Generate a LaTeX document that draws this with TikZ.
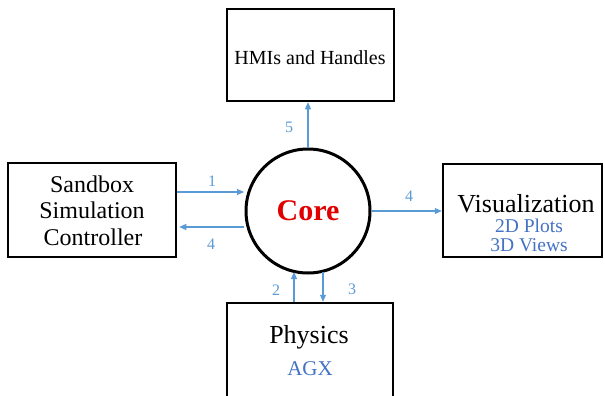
\documentclass[tikz,border=0pt]{standalone}
\usepackage{fontspec}
\setmainfont{Liberation Serif}
\usetikzlibrary{arrows.meta}
\definecolor{arrblue}{RGB}{91,155,213}
\definecolor{txtblue}{RGB}{68,114,196}
\definecolor{corered}{RGB}{225,0,0}
\tikzset{
  box/.style={draw=black, line width=2.5pt, fill=white, inner sep=0pt},
  arr/.style={draw=arrblue, line width=1.1pt, -{Triangle[length=7pt,width=6pt]}},
  num/.style={text=arrblue, font=\fontsize{16}{16}\selectfont, inner sep=0pt},
  big/.style={anchor=base, inner sep=0pt},
  sub/.style={anchor=base, inner sep=0pt, text=txtblue, font=\fontsize{19.5}{20}\selectfont},
}
\begin{document}
\begin{tikzpicture}[x=1pt,y=-1pt]
\useasboundingbox[fill=white] (0,0) rectangle (605,396);
% boxes
\node[box, minimum width=167pt, minimum height=92pt] (top) at (310.5,55) {};
\node[box, minimum width=168pt, minimum height=94pt] (left) at (92,210) {};
\node[box, minimum width=159pt, minimum height=93pt] (right) at (522.5,210.5) {};
\node[box, minimum width=166pt, minimum height=98pt] (bottom) at (310,352) {};
\node[circle, draw=black, line width=3pt, fill=white, minimum size=124pt, inner sep=0pt] (core) at (308,211) {};
% texts
\node[big, font=\fontsize{20}{20}\selectfont] (thmi) at (310,64) {HMIs and Handles};
\node[big, font=\fontsize{24}{24}\selectfont] (ts1) at (92,192) {Sandbox};
\node[big, font=\fontsize{24}{24}\selectfont] (ts2) at (92,218) {Simulation};
\node[big, font=\fontsize{24}{24}\selectfont] (ts3) at (93,245) {Controller};
\node[big, text depth=0pt, font=\fontsize{26}{26}\selectfont] (tvis) at (526,212.5) {Visualization};
\node[sub, text height=12.5pt] (t2d) at (529,232) {2D Plots};
\node[sub, text height=12.5pt] (t3d) at (529,251.5) {3D Views};
\node[big, font=\fontsize{26}{26}\selectfont] (tphy) at (309,343) {Physics};
\node[sub, font=\fontsize{21}{21}\selectfont] (tagx) at (310,375) {AGX};
\node[big, text=corered, font=\fontsize{30}{30}\selectfont\bfseries] (tcore) at (308,220) {Core};
% arrows
\coordinate (a1s) at (left.east |- 0,192);
\coordinate (a1e) at (244,192);
\draw[arr] (a1s) -- (a1e);
\coordinate (a4s) at (244,227);
\coordinate (a4e) at (left.east |- 0,227);
\draw[arr] (a4s) -- ([xshift=2pt]a4e);
\draw[arr] (core.east) -- (core.east -| right.west);
\draw[arr] (core.north) -- (core.north |- top.south);
\coordinate (a2s) at (294,0 |- bottom.north);
\coordinate (a2e) at (294,272);
\draw[arr] (a2s) -- (a2e);
\coordinate (a3s) at (323,272);
\coordinate (a3e) at (323,0 |- bottom.north);
\draw[arr] (a3s) -- (a3e);
% numbers
\node[num] (n1) at (212,181) {1};
\node[num] (n4l) at (211,244) {4};
\node[num] (n4r) at (409,196) {4};
\node[num] (n5) at (289,127) {5};
\node[num] (n2) at (276,290) {2};
\node[num] (n3) at (352,289) {3};
\end{tikzpicture}
\end{document}
